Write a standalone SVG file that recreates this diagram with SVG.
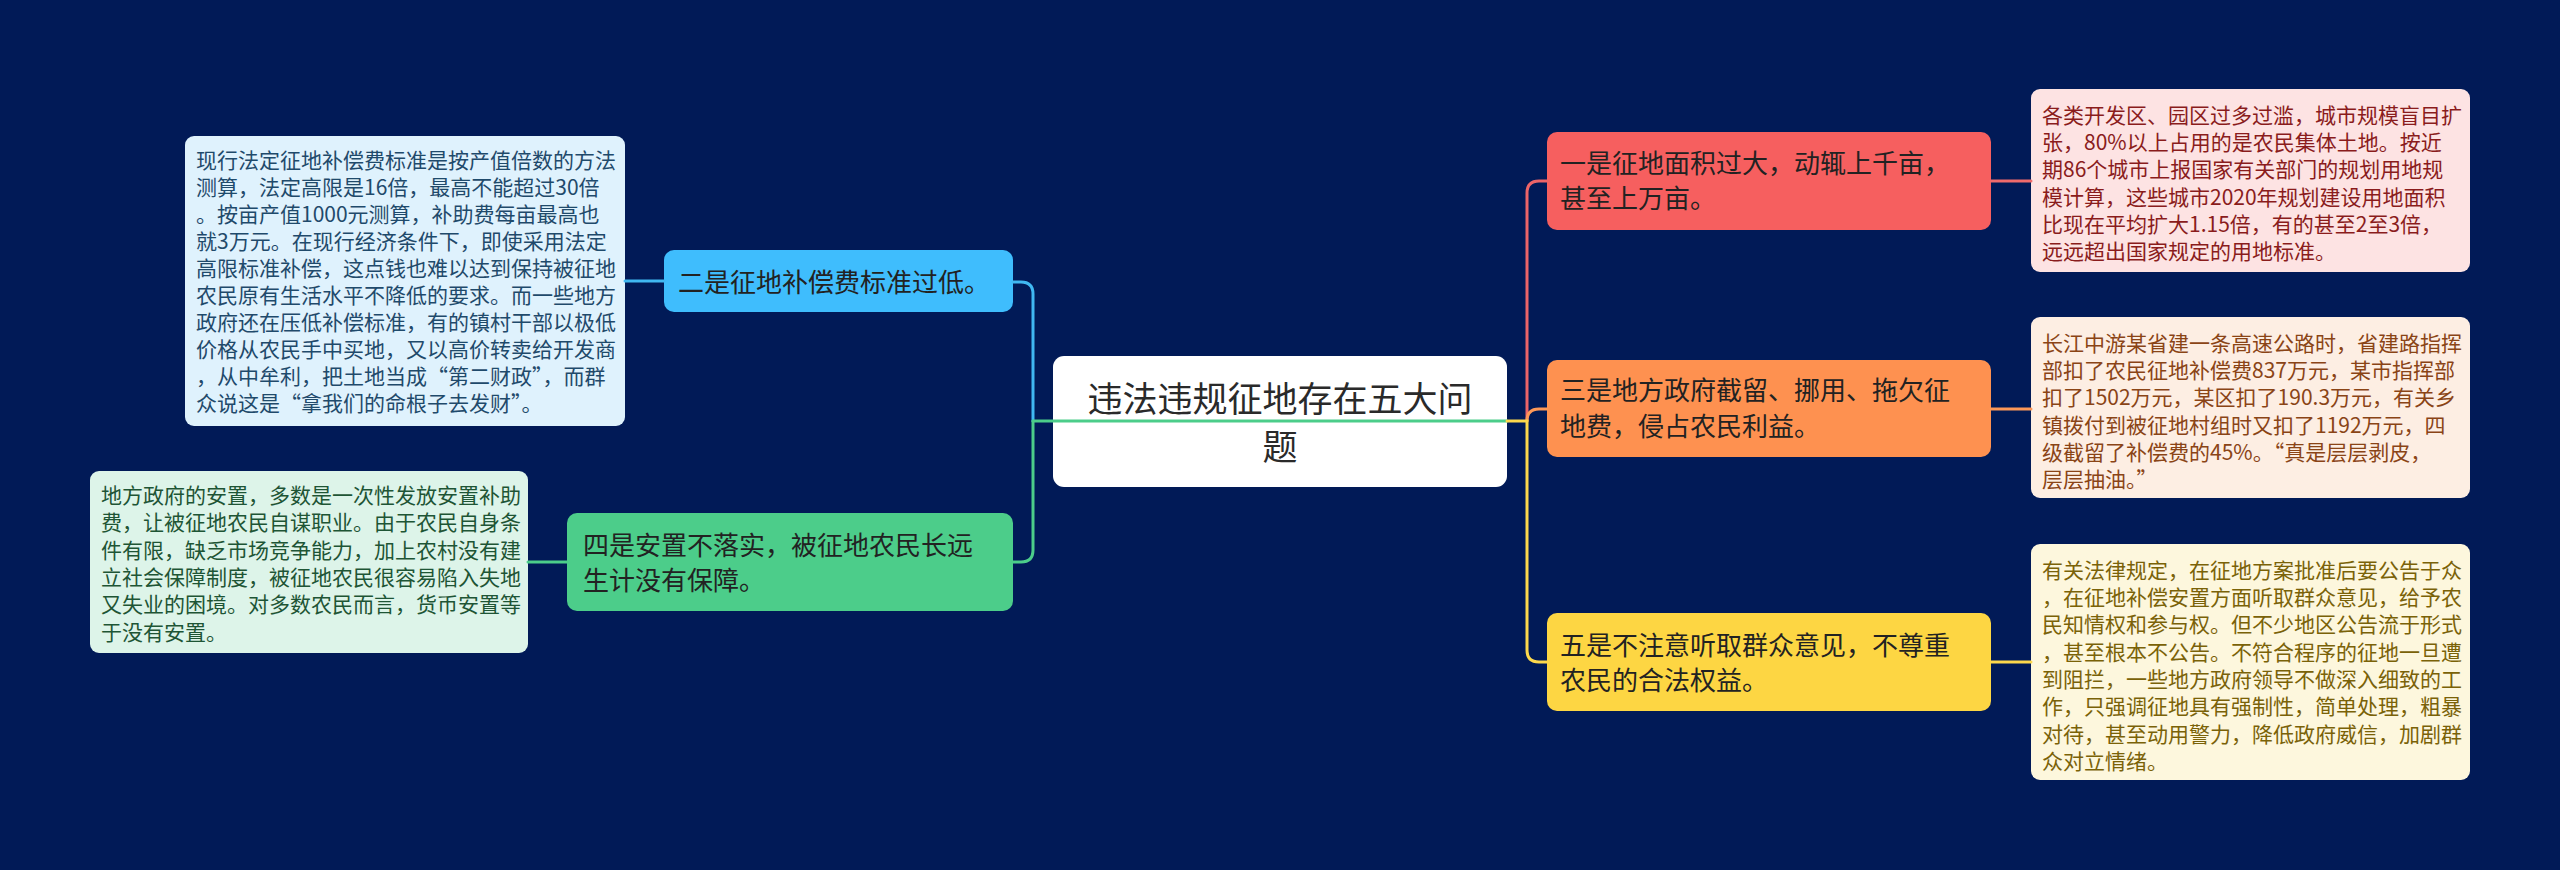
<svg xmlns="http://www.w3.org/2000/svg" width="2560" height="870" viewBox="0 0 2560 870">
<style>
text{font-family:"Noto Sans CJK SC","Noto Sans",sans-serif;}
.main{font-size:26px;fill:#222;}
.det{font-size:21px;}
.title{font-size:35px;fill:#2a2a2a;text-anchor:middle;}
.c{fill:none;stroke-width:3;stroke-linecap:round;}
</style>
<rect x="0" y="0" width="2560" height="870" fill="#011a57"/>
<g id="center">
<rect x="1053" y="356" width="454" height="131" rx="11" fill="#ffffff"/>
<text class="title" x="1280" y="412">违法违规征地存在五大问</text>
<text class="title" x="1280" y="460">题</text>
</g>
<g id="n1">
<rect x="1547" y="132" width="444" height="98" rx="10" fill="#f65f5f"/>
<text class="main" x="1560" y="173">一是征地面积过大，动辄上千亩，</text>
<text class="main" x="1560" y="208">甚至上万亩。</text>
</g>
<g id="n1d">
<rect x="2031" y="89" width="439" height="183" rx="9" fill="#fde3e3"/>
<g class="det" fill="#8a1c1c">
<text x="2042" y="123">各类开发区、园区过多过滥，城市规模盲目扩</text>
<text x="2042" y="150">张，80%以上占用的是农民集体土地。按近</text>
<text x="2042" y="177">期86个城市上报国家有关部门的规划用地规</text>
<text x="2042" y="205">模计算，这些城市2020年规划建设用地面积</text>
<text x="2042" y="232">比现在平均扩大1.15倍，有的甚至2至3倍，</text>
<text x="2042" y="259">远远超出国家规定的用地标准。</text>
</g>
</g>
<g id="n3">
<rect x="1547" y="360" width="444" height="97" rx="10" fill="#fe9150"/>
<text class="main" x="1560" y="400">三是地方政府截留、挪用、拖欠征</text>
<text class="main" x="1560" y="436">地费，侵占农民利益。</text>
</g>
<g id="n3d">
<rect x="2031" y="317" width="439" height="181" rx="9" fill="#fdeee3"/>
<g class="det" fill="#8a4416">
<text x="2042" y="351">长江中游某省建一条高速公路时，省建路指挥</text>
<text x="2042" y="378">部扣了农民征地补偿费837万元，某市指挥部</text>
<text x="2042" y="405">扣了1502万元，某区扣了190.3万元，有关乡</text>
<text x="2042" y="433">镇拨付到被征地村组时又扣了1192万元，四</text>
<text x="2042" y="460">级截留了补偿费的45%。“真是层层剥皮，</text>
<text x="2042" y="487">层层抽油。”</text>
</g>
</g>
<g id="n5">
<rect x="1547" y="613" width="444" height="98" rx="10" fill="#fdd643"/>
<text class="main" x="1560" y="655">五是不注意听取群众意见，不尊重</text>
<text class="main" x="1560" y="690">农民的合法权益。</text>
</g>
<g id="n5d">
<rect x="2031" y="544" width="439" height="236" rx="9" fill="#fdf7dd"/>
<g class="det" fill="#7a6208">
<text x="2042" y="578">有关法律规定，在征地方案批准后要公告于众</text>
<text x="2042" y="605">，在征地补偿安置方面听取群众意见，给予农</text>
<text x="2042" y="632">民知情权和参与权。但不少地区公告流于形式</text>
<text x="2042" y="660">，甚至根本不公告。不符合程序的征地一旦遭</text>
<text x="2042" y="687">到阻拦，一些地方政府领导不做深入细致的工</text>
<text x="2042" y="714">作，只强调征地具有强制性，简单处理，粗暴</text>
<text x="2042" y="742">对待，甚至动用警力，降低政府威信，加剧群</text>
<text x="2042" y="769">众对立情绪。</text>
</g>
</g>
<g id="n2">
<rect x="664" y="250" width="349" height="62" rx="10" fill="#3fbdfd"/>
<text class="main" x="678" y="292">二是征地补偿费标准过低。</text>
</g>
<g id="n2d">
<rect x="185" y="136" width="440" height="290" rx="9" fill="#dff2fd"/>
<g class="det" fill="#1f4a6b">
<text x="196" y="168">现行法定征地补偿费标准是按产值倍数的方法</text>
<text x="196" y="195">测算，法定高限是16倍，最高不能超过30倍</text>
<text x="196" y="222">。按亩产值1000元测算，补助费每亩最高也</text>
<text x="196" y="249">就3万元。在现行经济条件下，即使采用法定</text>
<text x="196" y="276">高限标准补偿，这点钱也难以达到保持被征地</text>
<text x="196" y="303">农民原有生活水平不降低的要求。而一些地方</text>
<text x="196" y="330">政府还在压低补偿标准，有的镇村干部以极低</text>
<text x="196" y="357">价格从农民手中买地，又以高价转卖给开发商</text>
<text x="196" y="384">，从中牟利，把土地当成“第二财政”，而群</text>
<text x="196" y="411">众说这是“拿我们的命根子去发财”。</text>
</g>
</g>
<g id="n4">
<rect x="567" y="513" width="446" height="98" rx="10" fill="#4ccd8a"/>
<text class="main" x="583" y="555">四是安置不落实，被征地农民长远</text>
<text class="main" x="583" y="590">生计没有保障。</text>
</g>
<g id="n4d">
<rect x="90" y="471" width="438" height="182" rx="9" fill="#ddf4e9"/>
<g class="det" fill="#1e5535">
<text x="101" y="503">地方政府的安置，多数是一次性发放安置补助</text>
<text x="101" y="530">费，让被征地农民自谋职业。由于农民自身条</text>
<text x="101" y="558">件有限，缺乏市场竞争能力，加上农村没有建</text>
<text x="101" y="585">立社会保障制度，被征地农民很容易陷入失地</text>
<text x="101" y="612">又失业的困境。对多数农民而言，货币安置等</text>
<text x="101" y="640">于没有安置。</text>
</g>
</g>
<g id="connectors">
<path class="c" stroke="#40b8f2" d="M1033,421 V294 Q1033,282 1021,282 H1013"/>
<path class="c" stroke="#4ccd8a" d="M1033,421 V550 Q1033,562 1021,562 H1013"/>
<path class="c" stroke="#4ccd8a" d="M1507,421 H1033"/>
<path class="c" stroke="#40b8f2" d="M625,281 H664"/>
<path class="c" stroke="#4ccd8a" d="M528,562 H567"/>
<path class="c" stroke="#ec6468" d="M1527,421 V193 Q1527,181 1539,181 H1547"/>
<path class="c" stroke="#fd9858" d="M1527,421 Q1527,409 1539,409 H1547"/>
<path class="c" stroke="#fdd84c" d="M1507,421 H1527 V650 Q1527,662 1539,662 H1547"/>
<path class="c" stroke="#f06a6c" d="M1991,181 H2031"/>
<path class="c" stroke="#fd9858" d="M1991,409 H2031"/>
<path class="c" stroke="#fdd84c" d="M1991,662 H2031"/>
</g>
</svg>
